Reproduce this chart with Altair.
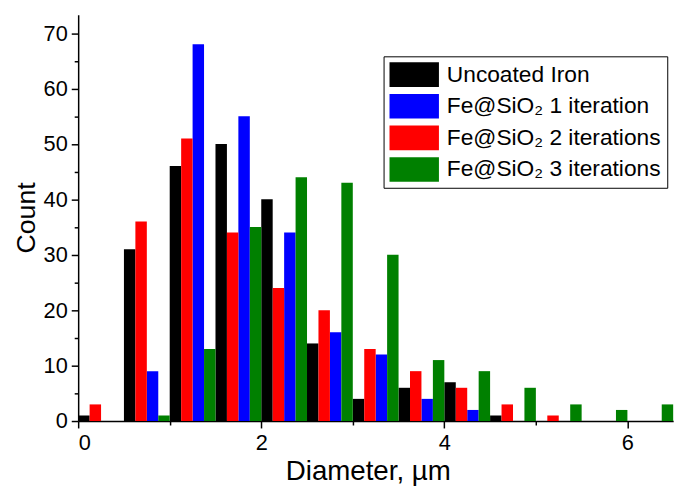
import altair as alt
import pandas as pd

# Histogram bins (left edges, µm), bin width 0.5
bin_starts = [0.0, 0.5, 1.0, 1.5, 2.0, 2.5, 3.0, 3.5, 4.0, 4.5, 5.0, 5.5, 6.0]
bin_width = 0.5

series_names = [
    "Uncoated Iron",
    "Fe@SiO\u2082 1 iteration",
    "Fe@SiO\u2082 2 iterations",
    "Fe@SiO\u2082 3 iterations",
]
series_colors = ["#000000", "#0000ff", "#ff0000", "#008000"]
# order of the bars inside each bin group (black, red, blue, green)
series_slot = [0, 2, 1, 3]

uncoated = [1, 31, 46, 50, 40, 14, 4, 6, 7, 1, 0, 0, 0]
iter1 = [0, 9, 68, 55, 34, 16, 12, 4, 2, 0, 0, 0, 0]
iter2 = [3, 36, 51, 34, 24, 20, 13, 9, 6, 3, 1, 0, 0]
iter3 = [0, 1, 13, 35, 44, 43, 30, 11, 9, 6, 3, 2, 3]

x_ticks = [0, 1, 2, 3, 4, 5, 6]
y_ticks = list(range(0, 75, 5))

rows = []
for name, slot, counts in zip(series_names, series_slot, [uncoated, iter1, iter2, iter3]):
    for b, c in zip(bin_starts, counts):
        if c > 0:
            rows.append({"series": name, "bin": b, "slot": slot, "count": c})
df = pd.DataFrame(rows)

FONT = "Liberation Sans"
sub_w = bin_width / 4

chart = (
    alt.Chart(df)
    .transform_calculate(
        x0=f"datum.bin + datum.slot * {sub_w}",
        x1=f"datum.bin + (datum.slot + 1) * {sub_w}",
    )
    .mark_bar(opacity=1)
    .encode(
        x=alt.X(
            "x0:Q",
            scale=alt.Scale(domain=[0, 6.5], nice=False, zero=False),
            axis=alt.Axis(
                title="Diameter, \u00b5m",
                values=x_ticks,
                labelExpr="datum.value % 2 == 0 ? datum.label : ''",
                tickSize={"condition": {"test": "datum.value % 2 == 0", "value": 7}, "value": 4},
                labelPadding=5,
                titleX=293,
                titleY=59,
                titleBaseline="alphabetic",
                titleFontSize=28,
            ),
        ),
        x2="x1:Q",
        y=alt.Y(
            "count:Q",
            scale=alt.Scale(domain=[0, 73.3], nice=False),
            axis=alt.Axis(
                title="Count",
                values=y_ticks,
                labelExpr="datum.value % 10 == 0 ? datum.label : ''",
                tickSize={"condition": {"test": "datum.value % 10 == 0", "value": 7}, "value": 4},
                labelPadding=4,
                titleX=-44,
                titleY=205,
                titleBaseline="alphabetic",
                titleFontSize=27,
            ),
        ),
        y2=alt.datum(0),
        color=alt.Color(
            "series:N",
            scale=alt.Scale(domain=series_names, range=series_colors),
            legend=alt.Legend(
                title=None,
                orient="none",
                legendX=309,
                legendY=42,
                padding=6,
                strokeColor="#000000",
                fillColor="#ffffff",
                symbolType="M-1,-1H3V1H-1Z",
                symbolSize=625,
                symbolStrokeWidth=0,
                symbolOpacity=1,
                labelOffset=33,
                labelFontSize=23,
                labelFont=FONT,
                labelColor="#000000",
                labelLimit=400,
                rowPadding=7,
            ),
        ),
    )
    .properties(
        width=602,
        height=411,
        autosize=alt.AutoSizeParams(type="none"),
        padding={"left": 71, "top": 4, "right": 15, "bottom": 77},
    )
    .configure_view(stroke=None)
    .configure_axis(
        grid=False,
        domainColor="#000000",
        domainWidth=1.5,
        tickColor="#000000",
        tickWidth=1.5,
        labelFont=FONT,
        labelFontSize=22,
        labelColor="#000000",
        titleFont=FONT,
        titleColor="#000000",
        titleFontWeight="normal",
    )
)

chart.save("out.html", embed_options={"renderer": "svg", "actions": False})
